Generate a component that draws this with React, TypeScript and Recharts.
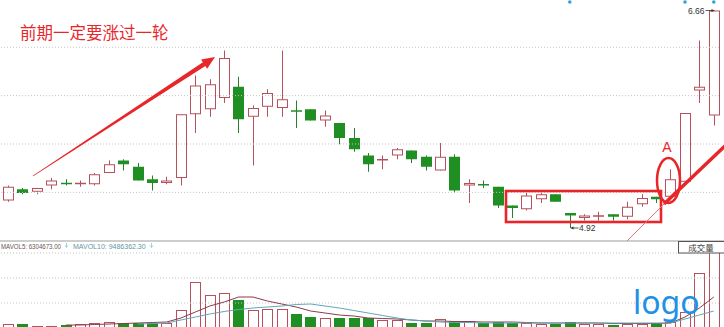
import React from 'react';
import {
  ComposedChart,
  Bar,
  Line,
  XAxis,
  YAxis,
  ReferenceLine,
  ReferenceDot,
} from 'recharts';

// daily OHLC, oldest first
const OPEN = [
  5.14, 5.23, 5.21, 5.26, 5.28, 5.27, 5.27, 5.36, 5.46, 5.41,
  5.31, 5.28, 5.32, 5.83, 5.87, 5.96, 6.05, 5.81, 5.89, 5.88,
  5.86, 5.87, 5.78, 5.76, 5.64, 5.5, 5.46, 5.5, 5.54, 5.49,
  5.38, 5.49, 5.26, 5.27, 5.25, 5.1, 5.07, 5.15, 5.19, 5.04,
  5.0, 5.01, 5.03, 5.01, 5.11, 5.17, 5.17, 5.29, 6.02, 5.82,
];
const HIGH = [
  5.26, 5.24, 5.24, 5.32, 5.31, 5.3, 5.36, 5.46, 5.47, 5.44,
  5.34, 5.33, 5.83, 6.14, 6.11, 6.34, 6.13, 5.9, 6.03, 6.34,
  5.94, 5.87, 5.86, 5.76, 5.72, 5.52, 5.5, 5.56, 5.54, 5.5,
  5.6, 5.51, 5.31, 5.3, 5.25, 5.1, 5.2, 5.2, 5.19, 5.04,
  5.03, 5.05, 5.03, 5.13, 5.19, 5.17, 5.39, 5.84, 6.42, 6.66,
];
const LOW = [
  5.13, 5.19, 5.19, 5.23, 5.26, 5.25, 5.26, 5.36, 5.38, 5.3,
  5.22, 5.27, 5.26, 5.68, 5.81, 5.92, 5.68, 5.42, 5.81, 5.81,
  5.72, 5.78, 5.73, 5.59, 5.53, 5.37, 5.39, 5.47, 5.44, 5.38,
  5.38, 5.2, 5.12, 5.24, 5.08, 5.0, 5.06, 5.12, 5.13, 4.92,
  4.98, 4.98, 4.98, 4.99, 5.09, 5.12, 5.14, 5.29, 5.92, 5.74,
];
const CLOSE = [
  5.25, 5.2, 5.24, 5.3, 5.27, 5.28, 5.35, 5.43, 5.43, 5.3,
  5.28, 5.3, 5.83, 6.06, 6.07, 6.28, 5.79, 5.88, 6.0, 5.95,
  5.85, 5.78, 5.82, 5.64, 5.55, 5.43, 5.47, 5.55, 5.47, 5.41,
  5.49, 5.22, 5.28, 5.26, 5.1, 5.08, 5.18, 5.19, 5.13, 5.02,
  5.02, 5.02, 5.01, 5.09, 5.16, 5.15, 5.31, 5.84, 6.05, 6.66,
];

// volume in 万股
const VOLUME = [
  320, 320, 280, 280, 300, 320, 340, 360, 340, 340,
  340, 340, 600, 1160, 900, 940, 800, 600, 620, 620,
  520, 460, 440, 440, 440, 440, 400, 400, 340, 340,
  420, 380, 380, 340, 360, 340, 340, 320, 320, 360,
  320, 320, 300, 320, 320, 320, 360, 560, 1340, 2100,
];
const MA5 = [
  null, null, null, null, 300, 300, 310, 320, 330, 340,
  350, 360, 440, 560, 680, 760, 860, 860, 780, 720,
  660, 580, 540, 500, 480, 440, 430, 420, 400, 380,
  380, 370, 370, 360, 360, 360, 350, 340, 340, 340,
  340, 340, 330, 330, 330, 330, 340, 460, 640, 860,
];
const MA10 = [
  null, null, null, null, null, null, null, null, null, 320,
  330, 340, 400, 460, 520, 570, 610, 640, 660, 680,
  710, 720, 680, 640, 590, 540, 490, 440, 400, 380,
  360, 350, 350, 340, 340, 340, 340, 340, 340, 340,
  340, 340, 340, 340, 340, 340, 340, 420, 500, 580,
];

const DAYS = OPEN.map((_, i) => String(i + 1));
const EVENT_DAYS = [40, 48, 50];
const EVENT_PRICE = 6.728;

const PRICE_DOMAIN = [4.824, 6.744];
const PRICE_GRID = [6.366, 5.979, 5.592, 5.205];
const VOL_DOMAIN = [260, 1740];
const VOL_GRID = [1740, 1240, 740];

const UP = '#b5505c';
const DOWN = '#1f8f24';
const DOWN_WICK = '#2b7d2e';
const MARK = '#e8262a';
const GRID = '#c4c4c4';

const rows = DAYS.map((day, i) => ({
  day,
  range: [LOW[i], HIGH[i]],
  open: OPEN[i],
  high: HIGH[i],
  low: LOW[i],
  close: CLOSE[i],
  vol: VOLUME[i],
  ma5: MA5[i],
  ma10: MA10[i],
}));

const HI_DAY = DAYS[HIGH.indexOf(Math.max(...HIGH))];
const LO_DAY = DAYS[LOW.indexOf(Math.min(...LOW))];

const Candle = (props: any) => {
  const { x, y, width, height, payload } = props;
  const cx = Math.round(x + width / 2) + 0.5;
  const top = Math.min(y, y + height);
  const h = Math.abs(height);
  const span = payload.high - payload.low;
  const py = (v: number) => (span > 0 ? top + ((payload.high - v) / span) * h : top);
  const up = payload.close >= payload.open;
  const bTop = py(Math.max(payload.open, payload.close));
  const bBot = py(Math.min(payload.open, payload.close));
  const bH = bBot - bTop;
  const half = 5.5;
  const color = up ? UP : DOWN;

  let label = null;
  if (payload.day === HI_DAY) {
    label = (
      <g fontFamily="Liberation Sans, Arial, sans-serif" fontSize={8.5} fill="#333">
        <text x={cx - 10} y={top + 3} textAnchor="end">{payload.high.toFixed(2)}</text>
        <line x1={cx - 9} y1={top} x2={cx - 1} y2={top} stroke="#333" strokeWidth={0.8} />
        <path d={`M${cx} ${top} l-3 -1.5 v3 z`} fill="#333" />
      </g>
    );
  } else if (payload.day === LO_DAY) {
    const ly = top + h;
    label = (
      <g fontFamily="Liberation Sans, Arial, sans-serif" fontSize={8.5} fill="#333">
        <path d={`M${cx} ${ly} l3 -1.5 v3 z`} fill="#333" />
        <line x1={cx + 1} y1={ly} x2={cx + 8} y2={ly} stroke="#333" strokeWidth={0.8} />
        <text x={cx + 8.5} y={ly + 3}>{payload.low.toFixed(2)}</text>
      </g>
    );
  }

  return (
    <g>
      <line x1={cx} y1={top} x2={cx} y2={top + h} stroke={up ? UP : DOWN_WICK} strokeWidth={1} />
      {bH < 2 ? (
        <line x1={cx - half} y1={bTop + 0.5} x2={cx + half} y2={bTop + 0.5} stroke={color} strokeWidth={1.5} />
      ) : up ? (
        <rect x={cx - half + 0.5} y={bTop + 0.5} width={half * 2 - 1} height={bH - 1} fill="#fff" stroke={UP} strokeWidth={1} />
      ) : (
        <rect x={cx - half} y={bTop} width={half * 2} height={bH} fill={DOWN} />
      )}
      {label}
    </g>
  );
};

const VolBar = (props: any) => {
  const { x, y, width, height, payload } = props;
  const cx = Math.round(x + width / 2) + 0.5;
  const up = payload.close >= payload.open;
  if (up) {
    return <rect x={cx - 5} y={y + 0.5} width={10} height={height} fill="#fff" stroke={UP} strokeWidth={1} />;
  }
  return <rect x={cx - 5.5} y={y} width={11} height={height} fill={DOWN} />;
};

// tapered arrow as one polygon
function arrow(x1: number, y1: number, x2: number, y2: number, w1: number, w2: number, hl: number, hw: number) {
  const len = Math.hypot(x2 - x1, y2 - y1);
  const dx = (x2 - x1) / len;
  const dy = (y2 - y1) / len;
  const nx = -dy;
  const ny = dx;
  const bx = x2 - dx * hl;
  const by = y2 - dy * hl;
  const pts = [
    [x1 + (nx * w1) / 2, y1 + (ny * w1) / 2],
    [bx + (nx * w2) / 2, by + (ny * w2) / 2],
    [bx + (nx * hw) / 2, by + (ny * hw) / 2],
    [x2, y2],
    [bx - (nx * hw) / 2, by - (ny * hw) / 2],
    [bx - (nx * w2) / 2, by - (ny * w2) / 2],
    [x1 - (nx * w1) / 2, y1 - (ny * w1) / 2],
  ];
  return pts.map((p) => p.join(',')).join(' ');
}

// little "falling" marker after each MA reading
const DownTick = ({ x }: { x: number }) => (
  <path d={`M${x} 243 v4.5 M${x - 1.5} 245.5 l1.5 2 l1.5 -2`} stroke="#8fd0dd" strokeWidth={0.9} fill="none" />
);

export default function App() {
  return (
    <div style={{ position: 'absolute', left: 0, top: 0, width: 724, height: 327, overflow: 'hidden', background: '#fff' }}>
      <div style={{ position: 'absolute', left: 0, top: 0 }}>
        <ComposedChart width={724} height={240} data={rows} margin={{ top: 0, right: 3, left: 1, bottom: 0 }} barCategoryGap={0}>
          <XAxis dataKey="day" hide />
          <YAxis type="number" domain={PRICE_DOMAIN} allowDataOverflow hide />
          {PRICE_GRID.map((p) => (
            <ReferenceLine key={p} y={p} stroke={GRID} strokeDasharray="1 2" />
          ))}
          <Bar dataKey="range" shape={<Candle />} isAnimationActive={false} />
          {EVENT_DAYS.map((d) => (
            <ReferenceDot key={d} x={String(d)} y={EVENT_PRICE} r={1.8} fill="#3a9fd2" stroke="none" />
          ))}
        </ComposedChart>
      </div>

      <div style={{ position: 'absolute', left: 0, top: 240, width: 724, height: 2, background: '#cdcdcd' }} />

      <div style={{ position: 'absolute', left: 0, top: 241 }}>
        <ComposedChart width={724} height={86} data={rows} margin={{ top: 12, right: 3, left: 1, bottom: 0 }} barCategoryGap={0}>
          <XAxis dataKey="day" hide />
          <YAxis type="number" domain={VOL_DOMAIN} allowDataOverflow hide />
          {VOL_GRID.map((v) => (
            <ReferenceLine key={v} y={v} stroke={GRID} strokeDasharray="1 2" />
          ))}
          <Bar dataKey="vol" shape={<VolBar />} isAnimationActive={false} />
          <Line dataKey="ma5" type="linear" stroke="#8c3b4c" strokeWidth={1} dot={false} isAnimationActive={false} />
          <Line dataKey="ma10" type="linear" stroke="#5fa9b8" strokeWidth={1} dot={false} isAnimationActive={false} />
        </ComposedChart>
      </div>

      <svg width={724} height={327} style={{ position: 'absolute', left: 0, top: 0, pointerEvents: 'none' }}>
        <text x={20} y={39} fontSize={16.5} fill={MARK} fontFamily="'Noto Sans CJK SC', sans-serif">
          前期一定要涨过一轮
        </text>
        <polygon points={arrow(33, 176, 215, 57, 0.8, 4.5, 13, 11)} fill={MARK} />

        <rect x={506} y={191} width={155} height={31} fill="none" stroke={MARK} strokeWidth={2.6} />
        <ellipse cx={668.5} cy={180.5} rx={11.5} ry={22.5} fill="none" stroke={MARK} strokeWidth={2.5} />
        <text x={667} y={152} fontSize={14} fill={MARK} textAnchor="middle" fontFamily="'Liberation Sans', Arial, sans-serif">
          A
        </text>
        <line x1={627} y1={241} x2={666} y2={202} stroke="#e07a7a" strokeWidth={1} />
        <line x1={664} y1={204} x2={726} y2={145} stroke={MARK} strokeWidth={3.5} />

        <g fontFamily="'Liberation Sans', Arial, sans-serif" fontSize={7}>
          <text x={1} y={249} fill="#6b5353" textLength={60} lengthAdjust="spacingAndGlyphs">MAVOL5: 6304673.00</text>
          <text x={73} y={249} fill="#5f95a3">MAVOL10: 9486362.30</text>
        </g>
        <DownTick x={66.5} />
        <DownTick x={151.5} />

        <rect x={678.5} y={241.5} width={46} height={11.5} fill="#fff" stroke="#555" strokeWidth={1} />
        <text x={701} y={250.5} fontSize={8.5} fill="#444" textAnchor="middle" fontFamily="'Noto Sans CJK SC', sans-serif">
          成交量
        </text>

        <text x={633} y={314} fontSize={32} fill="#2191e6" fontFamily="'Noto Sans', sans-serif">
          logo
        </text>
      </svg>
    </div>
  );
}
